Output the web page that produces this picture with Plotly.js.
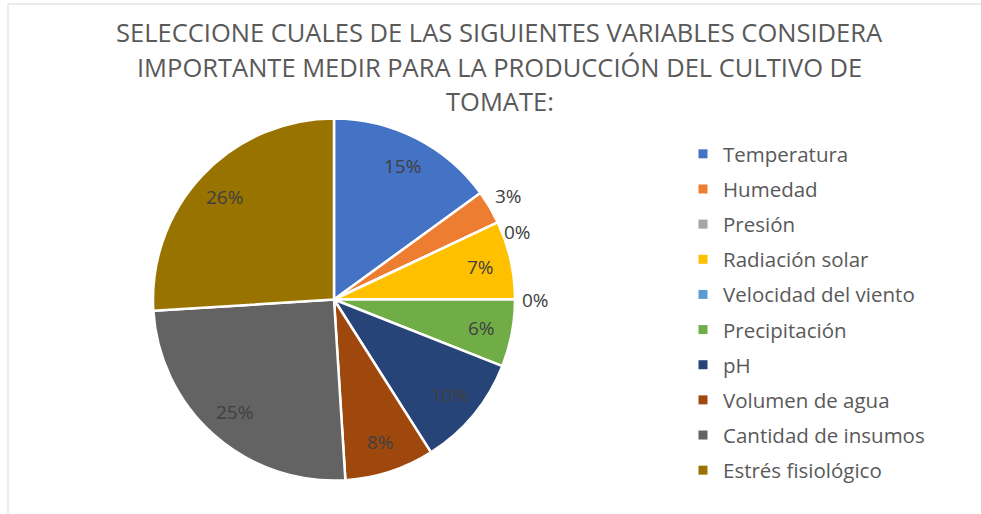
<!DOCTYPE html>
<html>
<head>
<meta charset="utf-8">
<script src="https://cdn.plot.ly/plotly-3.0.1.min.js"></script>
<style>html,body{margin:0;padding:0;background:#fff;}#chart{width:981px;height:514px;}</style>
</head>
<body>
<div id="chart"></div>
<script>
var categories = ["Temperatura","Humedad","Presión","Radiación solar","Velocidad del viento","Precipitación","pH","Volumen de agua","Cantidad de insumos","Estrés fisiológico"];
var percentValues = [15, 3, 0, 7, 0, 6, 10, 8, 25, 26];
var titleLines = ["SELECCIONE CUALES DE LAS SIGUIENTES VARIABLES CONSIDERA","IMPORTANTE MEDIR PARA LA PRODUCCIÓN DEL CULTIVO DE","TOMATE:"];

var sliceColors = ["#4472C4","#ED7D31","#A5A5A5","#FFC000","#5B9BD5","#70AD47","#264478","#9E480E","#636363","#997300"];

var W = 981, H = 514;
var cx = 334, cy = 299.5, r = 181;

var traces = [{
  type: "pie",
  labels: categories,
  values: percentValues,
  sort: false,
  direction: "clockwise",
  rotation: 0,
  marker: {colors: sliceColors, line: {color: "#ffffff", width: 2.5}},
  textinfo: "none",
  showlegend: false,
  hoverinfo: "label+percent",
  domain: {x: [(cx - r) / W, (cx + r) / W], y: [(H - cy - r) / H, (H - cy + r) / H]}
}];

categories.forEach(function(c, i){
  traces.push({
    type: "scatter", mode: "markers", x: [null], y: [null],
    name: c, legendgroup: "g" + i,
    marker: {symbol: "square", size: 9, color: sliceColors[i]},
    hoverinfo: "skip"
  });
});

// percentage labels placed along each slice's mid-angle (Excel style)
var total = percentValues.reduce(function(a, b){ return a + b; }, 0);
var annotations = [];
var cum = 0;
var lastOutsideY = -Infinity;
percentValues.forEach(function(v){
  var frac = v / total;
  var theta = (cum + v / 2) / total * 2 * Math.PI;
  cum += v;
  var txt = Math.round(frac * 100) + "%";
  var s = Math.sin(theta), c = Math.cos(theta);
  var px, py;
  if (frac < 0.05) {
    var hw = txt.length * 7, hh = 8;
    var R = r + 6 + hw * Math.abs(s) + hh * Math.abs(c);
    px = cx + R * s; py = cy - R * c;
    if (py < lastOutsideY + 36) py = lastOutsideY + 36;
    lastOutsideY = py;
  } else {
    px = cx + r * 0.83 * s; py = cy - r * 0.83 * c;
  }
  annotations.push({
    xref: "paper", yref: "paper", x: px / W, y: 1 - py / H,
    xanchor: "center", yanchor: "middle", showarrow: false,
    text: txt,
    font: {family: "Open Sans", size: 19, color: "#404040"}
  });
});
var titleY = [32, 67, 101];
titleLines.forEach(function(t, i){
  annotations.push({
    xref: "paper", yref: "paper", x: 500 / W, y: 1 - titleY[i] / H,
    xanchor: "center", yanchor: "middle", showarrow: false,
    text: t, font: {family: "Open Sans", size: 25.5, color: "#595959"}
  });
});

var layout = {
  width: W, height: H,
  margin: {l: 0, r: 0, t: 0, b: 0},
  paper_bgcolor: "#ffffff", plot_bgcolor: "#ffffff",
  font: {family: "Open Sans", color: "#595959"},
  xaxis: {visible: false}, yaxis: {visible: false},
  showlegend: true,
  legend: {
    x: 683 / W, xanchor: "left", y: 1 - 134 / H, yanchor: "top",
    font: {family: "Open Sans", size: 20.5, color: "#595959"},
    traceorder: "grouped", tracegroupgap: 5.5,
    bgcolor: "rgba(0,0,0,0)"
  },
  annotations: annotations,
  shapes: [{
    type: "rect", xref: "paper", yref: "paper",
    x0: 8 / W, x1: 1.02, y0: -0.02, y1: 1 - 4 / H,
    line: {color: "#d9d9d9", width: 1}, fillcolor: "rgba(0,0,0,0)", layer: "below"
  }]
};

Plotly.newPlot("chart", traces, layout, {displayModeBar: false, staticPlot: true});
</script>
</body>
</html>
